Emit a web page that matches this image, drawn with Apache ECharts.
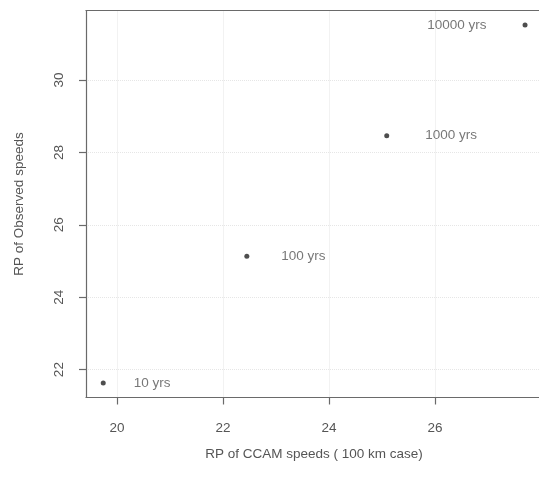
<!DOCTYPE html>
<html>
<head>
<meta charset="utf-8">
<script src="https://cdn.jsdelivr.net/npm/echarts@6/dist/echarts.min.js"></script>
<style>html,body{margin:0;padding:0;background:#fff}#c{width:539px;height:479px}</style>
</head>
<body>
<div id="c"></div>
<script>
const returnPeriods = ['10 yrs', '100 yrs', '1000 yrs', '10000 yrs'];
const ccamSpeeds = [19.74, 22.45, 25.09, 27.70];
const observedSpeeds = [21.63, 25.13, 28.46, 31.52];
const xTicks = [20, 22, 24, 26];
const yTicks = [22, 24, 26, 28, 30];
const labelSide = ['right', 'right', 'right', 'left'];
const labelGap = [28, 32, 36, 36];

const FONT = 'Liberation Sans, Arial, sans-serif';
const TXT = '#555';
const LINE = '#6a6a6a';

const chart = echarts.init(document.getElementById('c'), null, {renderer: 'canvas'});
const pts = ccamSpeeds.map((x, i) => ({
  value: [x, observedSpeeds[i]],
  label: {show: true, position: labelSide[i], distance: labelGap[i], formatter: returnPeriods[i]}
}));
const XMIN = 19.415, XMAX = 28.02;
chart.setOption({
  animation: false,
  backgroundColor: '#fff',
  grid: {left: 86, top: 10.5, right: -3, bottom: 81.5, show: false,
         containLabel: false, outerBoundsMode: 'none'},
  xAxis: [{
    type: 'value', min: XMIN, max: XMAX,
    name: 'RP of CCAM speeds ( 100 km case)', nameLocation: 'middle', nameGap: 50,
    nameTextStyle: {fontFamily: FONT, fontSize: 13.5, color: TXT},
    axisLine: {show: true, onZero: false, lineStyle: {color: LINE, width: 1.2}},
    axisTick: {show: true, length: 7, customValues: xTicks, lineStyle: {color: LINE, width: 1.2}},
    axisLabel: {customValues: xTicks, margin: 31, fontFamily: FONT, fontSize: 13.5, color: TXT, verticalAlign: 'middle'},
    splitLine: {show: true, lineStyle: {color: '#e6e6e6', type: 'dotted'}}
  }, {
    type: 'value', position: 'top', min: XMIN, max: XMAX,
    axisLine: {show: true, onZero: false, lineStyle: {color: LINE, width: 1.2}},
    axisTick: {show: false}, axisLabel: {show: false}, splitLine: {show: false}
  }],
  yAxis: {
    type: 'value', min: 21.23, max: 31.92,
    name: 'RP of Observed speeds', nameLocation: 'middle', nameGap: 67, nameRotate: 90,
    nameTextStyle: {fontFamily: FONT, fontSize: 13.5, color: TXT, verticalAlign: 'middle'},
    axisLine: {show: true, onZero: false, lineStyle: {color: LINE, width: 1.2}},
    axisTick: {show: true, length: 7, customValues: yTicks, lineStyle: {color: LINE, width: 1.2}},
    axisLabel: {customValues: yTicks, rotate: 90, margin: 27, fontFamily: FONT, fontSize: 13.5, color: TXT, align: 'center', verticalAlign: 'middle'},
    splitLine: {show: true, lineStyle: {color: '#e6e6e6', type: 'dotted'}}
  },
  series: [{
    type: 'scatter',
    xAxisIndex: 0,
    data: pts,
    symbol: 'circle', symbolSize: 5,
    itemStyle: {color: '#222'},
    label: {fontFamily: FONT, fontSize: 13.5, color: TXT}
  }]
});
</script>
</body>
</html>
